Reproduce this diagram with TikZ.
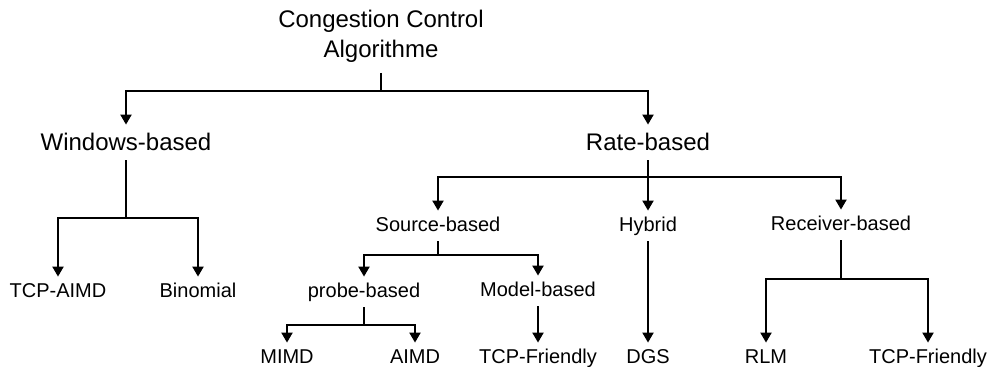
\documentclass[tikz,border=0pt]{standalone}
\usepackage{fontspec}
\setmainfont{Liberation Sans}
\usepackage{tikz}
\usetikzlibrary{arrows.meta}

\begin{document}
\begin{tikzpicture}[x=0.5pt, y=-0.5pt,
		big_style/.style={anchor=base,inner xsep=2pt,inner ysep=4pt,text height=9pt,text depth=0.5pt,font=\fontsize{12}{15}\selectfont},
		node_style/.style={anchor=base,inner xsep=2pt,inner ysep=3pt,text height=7.5pt,text depth=1.5pt,font=\fontsize{10}{12}\selectfont},
		edge_style/.style={draw=black,line width=1pt},
		arrow_style/.style={edge_style,-{Triangle[length=5pt,width=5.5pt]}}]

		\useasboundingbox (0,0) rectangle (990,367);

		\node[anchor=south,inner sep=5pt,align=center,font=\fontsize{12}{15}\selectfont] (root) at (381,73) {Congestion Control\\Algorithme};
		\node[big_style] (win) at (126,151) {Windows-based};
		\node[big_style] (rate) at (648,151) {Rate-based};
		\node[node_style] (tcpaimd) at (58,298) {TCP-AIMD};
		\node[node_style] (binom) at (198,298) {Binomial};
		\node[node_style] (src) at (438,232) {Source-based};
		\node[node_style] (hyb) at (648,232) {Hybrid};
		\node[node_style] (rcv) at (841,231) {Receiver-based};
		\node[node_style] (probe) at (364,298) {probe-based};
		\node[node_style] (model) at (538,297) {Model-based};
		\node[node_style] (mimd) at (287,364) {MIMD};
		\node[node_style] (aimd) at (415,364) {AIMD};
		\node[node_style] (tcpf1) at (538,364) {TCP-Friendly};
		\node[node_style] (dgs) at (648,364) {DGS};
		\node[node_style] (rlm) at (766,364) {RLM};
		\node[node_style] (tcpf2) at (928,364) {TCP-Friendly};

		% branch points
		\coordinate (b0) at (381,91);
		\coordinate (b1) at (126,218);
		\coordinate (b2) at (648,177);
		\coordinate (b3) at (438,255);
		\coordinate (b4) at (364,325);
		\coordinate (b5) at (841,279);

		\draw[edge_style]  (root) -- (b0);
		\draw[arrow_style] (b0) -| (win);
		\draw[arrow_style] (b0) -| (rate);
		\draw[edge_style]  (win) -- (b1);
		\draw[arrow_style] (b1) -| (tcpaimd);
		\draw[arrow_style] (b1) -| (binom);
		\draw[edge_style]  (rate) -- (b2);
		\draw[arrow_style] (b2) -| (src);
		\draw[arrow_style] (b2) -- (hyb);
		\draw[arrow_style] (b2) -| (rcv);
		\draw[edge_style]  (src) -- (b3);
		\draw[arrow_style] (b3) -| (probe);
		\draw[arrow_style] (b3) -| (model);
		\draw[edge_style]  (probe) -- (b4);
		\draw[arrow_style] (b4) -| (mimd);
		\draw[arrow_style] (b4) -| (aimd);
		\draw[arrow_style] (model) -- (tcpf1);
		\draw[arrow_style] (hyb) -- (dgs);
		\draw[edge_style]  (rcv) -- (b5);
		\draw[arrow_style] (b5) -| (rlm);
		\draw[arrow_style] (b5) -| (tcpf2);
		\end{tikzpicture}
\end{document}
